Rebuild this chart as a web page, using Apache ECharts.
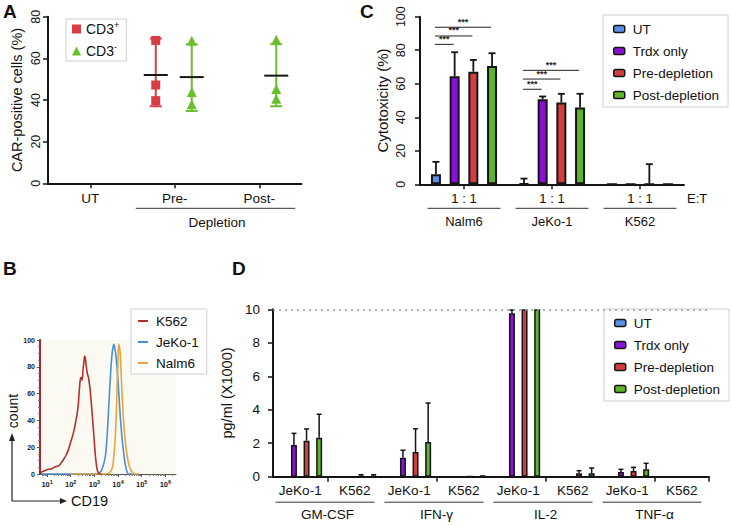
<!DOCTYPE html>
<html><head><meta charset="utf-8">
<script src="https://cdn.jsdelivr.net/npm/echarts@6/dist/echarts.min.js"></script>
<style>html,body{margin:0;padding:0;background:#fff}#c{width:731px;height:526px}</style>
</head><body><div id="c"></div>
<script>
const FONT = '"Liberation Sans", Arial, Helvetica, sans-serif';

// ---------- shared ----------
const seriesNames = ['UT', 'Trdx only', 'Pre-depletion', 'Post-depletion'];
const seriesColors = ['#5b8ee6', '#8a12d6', '#d43d3d', '#5cb52a'];

// ---------- Panel A ----------
const aCategories = ['UT', 'Pre-', 'Post-'];
const aCD3posPoints = [[], [68.6, 47.2, 39.7], []];
const aCD3posMean = [null, 52.0, null];
const aCD3posLow = [null, 37.0, null];
const aCD3posHigh = [null, 69.5, null];
const aCD3negPoints = [[], [68.4, 43.8, 38.0], [68.9, 45.3, 40.6]];
const aCD3negMean = [null, 51.0, 51.7];
const aCD3negLow = [null, 34.7, 37.0];
const aCD3negHigh = [null, 66.7, 66.8];

// ---------- Panel B (x in log10 CD19, y = count) ----------
const bExponents = [1, 2, 3, 4, 5, 6];
const bK562 = [[0.72,0],[0.77,1.5],[0.9,2.5],[1.05,3.5],[1.2,4],[1.35,5.5],[1.5,6],[1.6,8.5],[1.7,11],[1.8,14],[1.9,18],[2.0,24],[2.07,28],[2.13,32],[2.2,38],[2.27,45],[2.32,52],[2.36,62],[2.4,70],[2.44,72],[2.48,70],[2.52,78],[2.56,84],[2.59,88],[2.62,86],[2.66,80],[2.7,75],[2.75,72],[2.8,66],[2.86,55],[2.92,42],[2.98,28],[3.04,14],[3.1,5],[3.16,1],[3.22,0],[3.3,0]];
const bJeKo = [[0.72,0],[3.12,0],[3.26,1.7],[3.36,5.5],[3.47,14],[3.54,29],[3.61,51.5],[3.68,74],[3.75,90],[3.82,97],[3.89,91],[3.96,79],[4.03,61],[4.10,41.5],[4.17,26.6],[4.24,15.4],[4.31,6.7],[4.38,1.7],[4.45,0],[4.6,0]];
const bNalm6 = [[1.99,0],[3.47,0],[3.68,1.7],[3.78,6.7],[3.86,21.6],[3.92,41.5],[3.96,66],[4.00,86],[4.03,97],[4.09,91],[4.14,71],[4.21,46.5],[4.28,29],[4.38,14],[4.48,5.5],[4.59,1.7],[4.73,0],[4.87,0]];
const bMinorTicks = [];
for (let d = 0; d <= 6; d++) for (let m = 2; m <= 9; m++) { const v = d + Math.log10(m); if (v > 0.7 && v < 6.45) bMinorTicks.push(v); }

// ---------- Panel C ----------
const cRatioLabels = ['1 : 1', '1 : 1', '1 : 1'];
const cTargets = ['Nalm6', 'JeKo-1', 'K562'];
const cUT = [6.0, 0.5, 0];       const cUTErr = [7.4, 2.9, 0];
const cTrdx = [64.4, 50.8, 0];   const cTrdxErr = [14.4, 1.6, 0];
const cPre = [67.2, 48.8, 0];    const cPreErr = [7.0, 5.2, 12.0];
const cPost = [70.6, 45.8, 0];   const cPostErr = [7.6, 8.2, 0];
// significance: [target index, from series, to series, height (%)]
const cSig = [[0,0,1,83.5],[0,0,2,88.5],[0,0,3,93.7],[1,0,1,56.7],[1,0,2,62.8],[1,0,3,68.0]];
const cSigLabel = '***';

// ---------- Panel D ----------
const dTargets = ['JeKo-1','K562','JeKo-1','K562','JeKo-1','K562','JeKo-1','K562'];
const dCytokines = ['GM-CSF', 'IFN-γ', 'IL-2', 'TNF-α'];
const dUT = [0,0,0,0,0,0,0,0];               const dUTErr = [0,0,0,0,0,0,0,0];
const dTrdx = [1.89,0,1.13,0,9.76,0,0.28,0];  const dTrdxErr = [0.7,0,0.45,0,0.2,0,0.16,0];
const dPre = [2.15,0.05,1.47,0.02,10,0.2,0.34,0]; const dPreErr = [0.7,0.07,1.39,0,0,0.16,0.22,0];
const dPost = [2.33,0.05,2.08,0.02,10,0.2,0.44,0]; const dPostErr = [1.4,0.07,2.32,0.02,0,0.32,0.36,0];
const dLimit = 10;

// ---------- styles ----------
const INK = '#151515';
const axLine = { show: true, lineStyle: { color: INK, width: 2 } };
const axTick = { show: true, length: 5, lineStyle: { color: INK, width: 1.5 } };
const C_BW = 10, C_GAP = 0.87, C_SP = C_BW * (1 + C_GAP);
const D_BW = 6, D_GAP = 1.1, D_SP = D_BW * (1 + D_GAP);

function errRows(vals, errs) {
  const rows = [];
  vals.forEach((arr, k) => arr.forEach((v, i) => rows.push([i, k, v, errs[k][i]])));
  return rows;
}
function errorSeries(xi, yi, rows, sp, capW, lw) {
  return {
    type: 'custom', xAxisIndex: xi, yAxisIndex: yi, z: 3, silent: true, data: rows,
    encode: { x: 0, y: 2 },
    renderItem(params, api) {
      const cat = api.value(0), k = api.value(1), v = api.value(2), e = api.value(3);
      if (!e) return { type: 'group', children: [] };
      const b = api.coord([cat, v]), t = api.coord([cat, v + e]);
      const x = b[0] + (k - 1.5) * sp;
      return { type: 'group', children: [
        { type: 'line', shape: { x1: x, y1: b[1], x2: x, y2: t[1] }, style: { stroke: INK, lineWidth: lw } },
        { type: 'line', shape: { x1: x - capW / 2, y1: t[1], x2: x + capW / 2, y2: t[1] }, style: { stroke: INK, lineWidth: lw } }
      ]};
    }
  };
}
function whiskerSeries(means, lows, highs, offset, color) {
  const rows = [];
  means.forEach((m, i) => { if (m != null) rows.push([i, m, lows[i], highs[i]]); });
  return {
    type: 'custom', xAxisIndex: 0, yAxisIndex: 0, z: 2, silent: true, data: rows, encode: { x: 0, y: 1 },
    renderItem(params, api) {
      const cat = api.value(0);
      const m = api.coord([cat, api.value(1)]), lo = api.coord([cat, api.value(2)]), hi = api.coord([cat, api.value(3)]);
      const x = m[0] + offset;
      return { type: 'group', children: [
        { type: 'line', shape: { x1: x, y1: lo[1], x2: x, y2: hi[1] }, style: { stroke: color, lineWidth: 2 } },
        { type: 'line', shape: { x1: x - 6, y1: lo[1], x2: x + 6, y2: lo[1] }, style: { stroke: color, lineWidth: 2 } },
        { type: 'line', shape: { x1: x - 6, y1: hi[1], x2: x + 6, y2: hi[1] }, style: { stroke: color, lineWidth: 2 } },
        { type: 'line', shape: { x1: x - 12, y1: m[1], x2: x + 12, y2: m[1] }, style: { stroke: INK, lineWidth: 2 } }
      ]};
    }
  };
}
function pointRows(points) {
  const rows = [];
  points.forEach((arr, i) => arr.forEach(v => rows.push([i, v])));
  return rows;
}

const legendBase = { orient: 'vertical', selectedMode: false, backgroundColor: '#fff', borderColor: '#cfcfcf', borderWidth: 1, borderRadius: 0 };

const option = {
  animation: false,
  textStyle: { fontFamily: FONT, color: '#111' },
  grid: [
    { left: 48, top: 16.7, width: 253.5, height: 166.6 },
    { left: 40, top: 340, width: 136, height: 134, show: true, backgroundColor: '#fbfaf2', borderWidth: 0 },
    { left: 420, top: 16.7, width: 264, height: 167.6 },
    { left: 273, top: 309.3, width: 436, height: 167.4 }
  ],
  xAxis: [
    { gridIndex: 0, position: 'bottom', type: 'category', data: aCategories, axisLine: axLine, axisTick: Object.assign({}, axTick, { alignWithLabel: true }), axisLabel: { fontSize: 13.5, margin: 8, color: '#111', interval: 0 } },
    { gridIndex: 1, position: 'bottom', type: 'value', min: 0.7, max: 6.45, splitLine: { show: false },
      axisLine: { show: true, lineStyle: { color: '#555', width: 1 } },
      axisTick: { show: true, length: 3, customValues: bExponents, lineStyle: { color: '#555' } },
      axisLabel: { customValues: bExponents, formatter: v => '10{s|' + v + '}', fontSize: 7.5, fontWeight: 'bold', margin: 5, color: '#222', lineHeight: 10,
        rich: { s: { fontSize: 5.5, fontWeight: 'bold', verticalAlign: 'top', lineHeight: 6, color: '#222' } } } },
    { gridIndex: 1, position: 'bottom', type: 'value', min: 0.7, max: 6.45, splitLine: { show: false }, axisLine: { show: false }, axisLabel: { show: false },
      axisTick: { show: true, length: 2, customValues: bMinorTicks, lineStyle: { color: '#777' } } },
    { gridIndex: 2, position: 'bottom', type: 'category', data: cRatioLabels, axisLine: axLine, axisTick: Object.assign({}, axTick, { alignWithLabel: true }),
      axisLabel: { fontSize: 13, margin: 8, color: '#111', interval: 0 },
      name: 'E:T', nameLocation: 'end', nameGap: 3, nameTextStyle: { fontSize: 13, color: '#111', verticalAlign: 'top', padding: [8, 0, 0, 0] } },
    { gridIndex: 2, position: 'bottom', type: 'category', data: cTargets, axisLine: { show: false }, axisTick: { show: false }, axisLabel: { fontSize: 13, margin: 31, color: '#111', interval: 0 } },
    { gridIndex: 3, position: 'bottom', type: 'category', data: dTargets, axisLine: axLine, axisTick: Object.assign({}, axTick, { interval: (i) => i % 2 === 1 }),
      axisLabel: { fontSize: 13.5, margin: 7, color: '#111', interval: 0 } },
    { gridIndex: 3, position: 'bottom', type: 'category', data: dCytokines, axisLine: { show: false }, axisTick: { show: false }, axisLabel: { fontSize: 13.5, margin: 31, color: '#111', interval: 0 } }
  ],
  yAxis: [
    { gridIndex: 0, type: 'value', min: 0, max: 80, interval: 20, axisLine: axLine, axisTick: axTick, splitLine: { show: false },
      axisLabel: { rotate: 90, fontSize: 12.5, margin: 6, color: '#111' },
      name: 'CAR-positive cells (%)', nameLocation: 'middle', nameGap: 24, nameRotate: 90, nameTextStyle: { fontSize: 14.5, color: '#111' } },
    { gridIndex: 1, type: 'value', min: 0, max: 100, interval: 20, splitLine: { show: false },
      axisLine: { show: true, lineStyle: { color: '#a3262a', width: 2 } },
      axisTick: { show: true, length: 3, lineStyle: { color: '#555' } },
      minorTick: { show: true, splitNumber: 4, length: 2, lineStyle: { color: '#777' } },
      axisLabel: { fontSize: 7, fontWeight: 'bold', margin: 5, color: '#222' } },
    { gridIndex: 2, type: 'value', min: 0, max: 100, interval: 20, axisLine: axLine, axisTick: axTick, splitLine: { show: false },
      axisLabel: { rotate: 90, fontSize: 12.5, margin: 13, color: '#111' },
      name: 'Cytotoxicity (%)', nameLocation: 'middle', nameGap: 30, nameRotate: 90, nameTextStyle: { fontSize: 15, color: '#111' } },
    { gridIndex: 3, type: 'value', min: 0, max: 10, interval: 2, axisLine: axLine, axisTick: axTick, splitLine: { show: false },
      axisLabel: { fontSize: 13.5, margin: 13, color: '#111' },
      name: 'pg/ml (X1000)', nameLocation: 'middle', nameGap: 26, nameRotate: 90, nameTextStyle: { fontSize: 14.5, color: '#111' } }
  ],
  legend: [
    Object.assign({}, legendBase, { left: 66, top: 19, padding: [1, 7, 1, 6], itemGap: 4, itemWidth: 9, itemHeight: 9, data: ['CD3+', 'CD3-'],
      formatter: n => n === 'CD3+' ? 'CD3{sup|+}' : 'CD3{sup|-}',
      textStyle: { fontSize: 14, lineHeight: 18, color: '#111', rich: { sup: { fontSize: 9, lineHeight: 11, verticalAlign: 'top', color: '#111' } } } }),
    Object.assign({}, legendBase, { left: 131, top: 309, padding: [4, 8, 3, 7], itemGap: 5, itemWidth: 10, itemHeight: 2, icon: 'rect', data: ['K562', 'JeKo-1', 'Nalm6'],
      textStyle: { fontSize: 13.5, lineHeight: 16, color: '#111', padding: [0, 0, 0, 3] } }),
    Object.assign({}, legendBase, { left: 603, top: 15, padding: [5, 9, 3, 10], itemGap: 4, itemWidth: 11, itemHeight: 7, icon: 'roundRect', data: seriesNames,
      itemStyle: { borderColor: INK, borderWidth: 1.5 }, textStyle: { fontSize: 13.5, lineHeight: 18, color: '#111', padding: [0, 0, 0, 3] } }),
    Object.assign({}, legendBase, { left: 604, top: 309, padding: [5, 9, 3, 10], itemGap: 4, itemWidth: 11, itemHeight: 7, icon: 'roundRect', data: seriesNames,
      itemStyle: { borderColor: INK, borderWidth: 1.5 }, textStyle: { fontSize: 13.5, lineHeight: 18, color: '#111', padding: [0, 0, 0, 3] } })
  ],
  series: []
};

// Panel A series
option.series.push(whiskerSeries(aCD3posMean, aCD3posLow, aCD3posHigh, -19, '#d83c45'));
option.series.push(whiskerSeries(aCD3negMean, aCD3negLow, aCD3negHigh, 17, '#6cbf2c'));
option.series.push({ type: 'scatter', name: 'CD3+', xAxisIndex: 0, yAxisIndex: 0, z: 4, symbol: 'rect', symbolSize: 9, symbolOffset: [-19, 0],
  itemStyle: { color: '#d83c45', opacity: 1 }, data: pointRows(aCD3posPoints) });
option.series.push({ type: 'scatter', name: 'CD3-', xAxisIndex: 0, yAxisIndex: 0, z: 4, symbol: 'triangle', symbolSize: 10, symbolOffset: [17, 0],
  itemStyle: { color: '#6cbf2c', opacity: 1 }, data: pointRows(aCD3negPoints) });

// Panel B series
[['K562', bK562, '#b3302d'], ['JeKo-1', bJeKo, '#4a8fd8'], ['Nalm6', bNalm6, '#eba33f']].forEach(([n, d, col]) => {
  option.series.push({ type: 'line', name: n, xAxisIndex: 1, yAxisIndex: 1, data: d, showSymbol: false, symbol: 'none', smooth: 0.25,
    itemStyle: { color: col }, lineStyle: { color: col, width: 1.6 }, z: n === 'K562' ? 3 : 2 });
});

// Panel C series
const cVals = [cUT, cTrdx, cPre, cPost], cErrs = [cUTErr, cTrdxErr, cPreErr, cPostErr];
seriesNames.forEach((n, k) => option.series.push({ type: 'bar', name: n, xAxisIndex: 3, yAxisIndex: 2, data: cVals[k], barWidth: C_BW, barGap: (C_GAP * 100) + '%',
  itemStyle: { color: seriesColors[k], borderColor: INK, borderWidth: 2 } }));
option.series.push(errorSeries(3, 2, errRows(cVals, cErrs), C_SP, 7, 1.8));
option.series.push({
  type: 'custom', xAxisIndex: 3, yAxisIndex: 2, z: 5, silent: true, data: cSig, encode: { x: 0, y: 3 },
  renderItem(params, api) {
    const c = api.coord([api.value(0), api.value(3)]);
    const x1 = c[0] + (api.value(1) - 1.5) * C_SP - 1, x2 = c[0] + (api.value(2) - 1.5) * C_SP - 1;
    return { type: 'group', children: [
      { type: 'line', shape: { x1, y1: c[1], x2, y2: c[1] }, style: { stroke: '#222', lineWidth: 1 } },
      { type: 'text', x: (x1 + x2) / 2, y: c[1] - 1, style: { text: cSigLabel, align: 'center', verticalAlign: 'bottom', font: 'bold 9px ' + FONT, fill: '#222' } }
    ]};
  }
});

// Panel D series
const dVals = [dUT, dTrdx, dPre, dPost], dErrs = [dUTErr, dTrdxErr, dPreErr, dPostErr];
seriesNames.forEach((n, k) => {
  const s = { type: 'bar', name: n, xAxisIndex: 5, yAxisIndex: 3, data: dVals[k], barWidth: D_BW, barGap: (D_GAP * 100) + '%',
    itemStyle: { color: seriesColors[k], borderColor: INK, borderWidth: 1.5 } };
  if (k === 0) s.markLine = { silent: true, symbol: ['none', 'none'], label: { show: false }, lineStyle: { type: [2, 4], color: '#9a9a9a', width: 1.5 }, data: [{ yAxis: dLimit }] };
  option.series.push(s);
});
option.series.push(errorSeries(5, 3, errRows(dVals, dErrs), D_SP, 5, 1.5));

const chart = echarts.init(document.getElementById('c'), null, { renderer: 'svg' });
chart.setOption(option);

// ---------- annotations tied to axes ----------
const X = (xi, v) => chart.convertToPixel({ xAxisIndex: xi }, v);
const Y = (yi, v) => chart.convertToPixel({ yAxisIndex: yi }, v);
const g = [];
const txt = (x, y, t, size, extra) => Object.assign({ type: 'text', x, y, style: { text: t, align: 'center', verticalAlign: 'middle', font: size + 'px ' + FONT, fill: '#111' } }, extra || {});
const hline = (x1, x2, y, col, w) => ({ type: 'line', shape: { x1, y1: y, x2, y2: y }, style: { stroke: col || '#333', lineWidth: w || 1 } });

// Panel letters
g.push({ type: 'text', x: 3, y: 2, style: { text: 'A', font: 'bold 19px ' + FONT, fill: '#111', verticalAlign: 'top' } });
g.push({ type: 'text', x: 3, y: 259, style: { text: 'B', font: 'bold 19px ' + FONT, fill: '#111', verticalAlign: 'top' } });
g.push({ type: 'text', x: 360, y: 2, style: { text: 'C', font: 'bold 19px ' + FONT, fill: '#111', verticalAlign: 'top' } });
g.push({ type: 'text', x: 232, y: 259, style: { text: 'D', font: 'bold 19px ' + FONT, fill: '#111', verticalAlign: 'top' } });

// A depletion bracket
const aPre = X(0, 1), aPost = X(0, 2), aY0 = Y(0, 0);
g.push(hline(aPre - 39, aPost + 36, aY0 + 25));
g.push(txt((aPre + aPost) / 2 + 0, aY0 + 39, 'Depletion', 13.5));

// C target brackets
const cY0 = Y(2, 0);
cTargets.forEach((t, i) => { const cx = X(3, i); g.push(hline(cx - 36.5, cx + 36.5, cY0 + 24)); });

// D cytokine brackets
const dY0 = Y(3, 0);
dCytokines.forEach((t, j) => { const mid = (X(5, 2 * j) + X(5, 2 * j + 1)) / 2 - 2.5; g.push(hline(mid - 49.5, mid + 49.5, dY0 + 25.5)); });

// B flow-cytometry axis arrows
g.push({ type: 'line', shape: { x1: 12, y1: 501, x2: 12, y2: 440 }, style: { stroke: '#222', lineWidth: 1.2 } });
g.push({ type: 'polygon', shape: { points: [[9, 441], [15, 441], [12, 433]] }, style: { fill: '#222' } });
g.push({ type: 'line', shape: { x1: 12, y1: 501, x2: 61, y2: 501 }, style: { stroke: '#222', lineWidth: 1.2 } });
g.push({ type: 'polygon', shape: { points: [[60, 498], [60, 504], [67, 501]] }, style: { fill: '#222' } });
g.push(txt(13, 411, 'count', 14, { rotation: Math.PI / 2 }));
g.push({ type: 'text', x: 71, y: 501, style: { text: 'CD19', align: 'left', verticalAlign: 'middle', font: '14.5px ' + FONT, fill: '#111' } });

chart.setOption({ graphic: { elements: g } });
</script>
</body></html>
